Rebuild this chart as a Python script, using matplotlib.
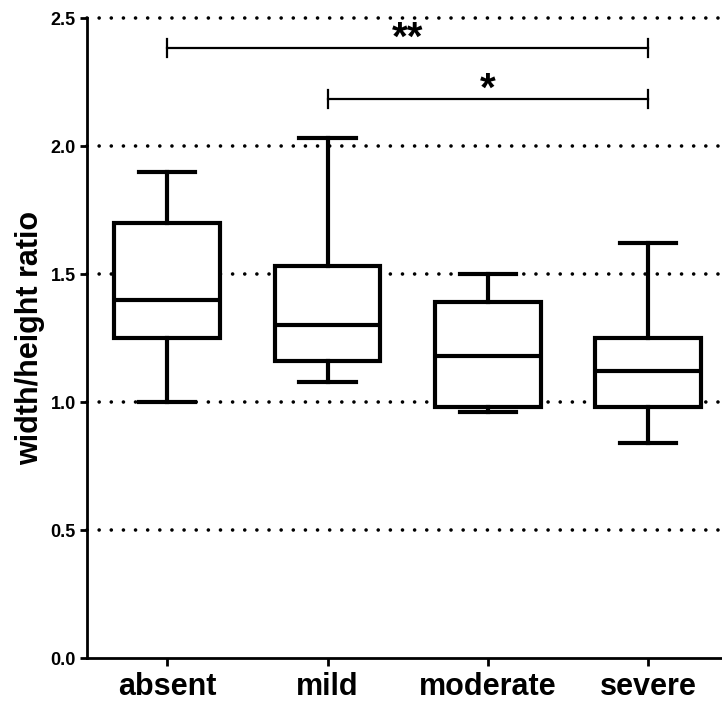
import numpy as np
import matplotlib
matplotlib.use("Agg")
import matplotlib.pyplot as plt

plt.rcParams['font.family'] = ['Liberation Sans', 'DejaVu Sans']

groups = ['absent', 'mild', 'moderate', 'severe']
whisker_low = [1.00, 1.08, 0.96, 0.84]
q1 = [1.25, 1.16, 0.98, 0.98]
median = [1.40, 1.30, 1.18, 1.12]
q3 = [1.70, 1.53, 1.39, 1.25]
whisker_high = [1.90, 2.03, 1.50, 1.62]

y_ticks = [0.0, 0.5, 1.0, 1.5, 2.0, 2.5]

# significance brackets: (group a, group b, height, label)
sig_pairs = [(0, 3, 2.383, '**'), (1, 3, 2.184, '*')]

stats = []
for i, g in enumerate(groups):
    stats.append(dict(label=g, whislo=whisker_low[i], q1=q1[i], med=median[i],
                      q3=q3[i], whishi=whisker_high[i], fliers=[]))

fig = plt.figure(figsize=(7.22, 7.04), dpi=100)
ax = fig.add_axes([0.1205, 0.0653, 0.8795, 0.909])

for yv in y_ticks[1:]:
    ax.axhline(yv, color='black', lw=2.6, linestyle=(0, (0.01, 3.35)),
               dash_capstyle='round', zorder=0, clip_on=False)

lw = 3
ax.bxp(stats, positions=range(len(groups)), widths=0.66, capwidths=0.35,
       showfliers=False, patch_artist=True,
       boxprops=dict(facecolor='white', edgecolor='black', linewidth=lw),
       medianprops=dict(color='black', linewidth=lw),
       whiskerprops=dict(color='black', linewidth=lw),
       capprops=dict(color='black', linewidth=lw),
       zorder=2)

for a, b, h, lab in sig_pairs:
    ax.plot([a, b], [h, h], color='black', lw=1.6, zorder=3)
    for e in (a, b):
        ax.plot([e, e], [h - 0.035, h + 0.035], color='black', lw=1.6, zorder=3)
    ax.text((a + b) / 2, h + 0.035, lab, ha='center', va='center',
            fontsize=29, fontweight='bold')

ax.set_xlim(-0.5, 3.46)
ax.set_ylim(0, 2.5)
ax.set_yticks(y_ticks)
ax.set_yticklabels(['%.1f' % v for v in y_ticks], fontsize=13, fontweight='bold')
ax.set_xticks(range(len(groups)))
ax.set_xticklabels(groups, fontsize=22, fontweight='bold')
ax.set_ylabel('width/height ratio', fontsize=22, fontweight='bold', labelpad=4)

ax.spines['top'].set_visible(False)
ax.spines['right'].set_visible(False)
ax.spines['left'].set_linewidth(2)
ax.spines['bottom'].set_linewidth(2)
ax.tick_params(axis='y', length=5, width=2, pad=3)
ax.tick_params(axis='x', length=6, width=2, pad=4)

fig.savefig('out.png', dpi=100)
